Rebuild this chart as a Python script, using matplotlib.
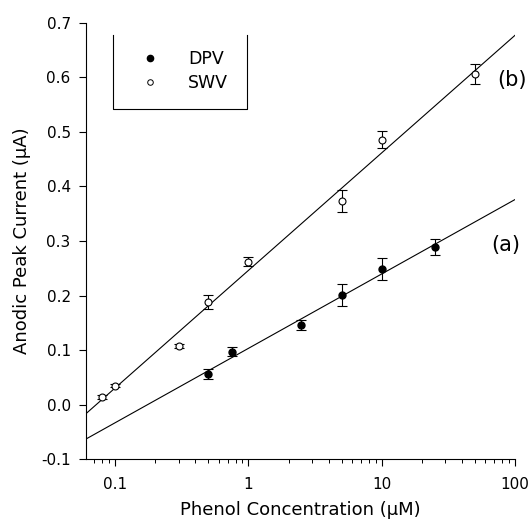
import numpy as np
import matplotlib
matplotlib.use('Agg')
import matplotlib.pyplot as plt
from matplotlib.lines import Line2D
from matplotlib.ticker import FixedLocator, FuncFormatter, LogLocator, NullFormatter

plt.rcParams['font.family'] = ['DejaVu Sans']

# DPV (filled)
dpv_x = [0.5, 0.75, 2.5, 5, 10, 25]
dpv_y = [0.056, 0.097, 0.146, 0.201, 0.249, 0.289]
dpv_err = [0.009, 0.008, 0.010, 0.020, 0.020, 0.015]

# SWV (open)
swv_x = [0.08, 0.1, 0.3, 0.5, 1, 5, 10, 50]
swv_y = [0.014, 0.035, 0.107, 0.188, 0.262, 0.374, 0.486, 0.606]
swv_err = [0.003, 0.003, 0.004, 0.013, 0.008, 0.020, 0.015, 0.018]

fig = plt.figure(figsize=(5.31, 5.2), dpi=100)
ax = fig.add_axes([0.162, 0.117, 0.808, 0.839])

xmin, xmax = 0.0605, 100
xx = np.logspace(np.log10(xmin), np.log10(xmax), 50)

# linear fits vs log concentration
pa = np.polyfit(np.log10(dpv_x), dpv_y, 1)
pb = np.polyfit(np.log10(swv_x), swv_y, 1)
ax.plot(xx, np.polyval(pa, np.log10(xx)), color='k', lw=0.8)
ax.plot(xx, np.polyval(pb, np.log10(xx)), color='k', lw=0.8)

ax.errorbar(dpv_x, dpv_y, yerr=dpv_err, fmt='o', color='k', ms=5,
            mfc='k', mec='k', ecolor='k', elinewidth=0.8, capsize=3.6, capthick=0.8,
            zorder=3)
ax.errorbar(swv_x, swv_y, yerr=swv_err, fmt='o', color='k', ms=5,
            mfc='white', mec='k', mew=0.8, ecolor='k', elinewidth=0.8, capsize=3.6,
            capthick=0.8, zorder=3)

ax.set_xscale('log')
ax.set_xlim(xmin, xmax)
ax.set_ylim(-0.1, 0.7)

ax.xaxis.set_major_locator(FixedLocator([0.1, 1, 10, 100]))
ax.xaxis.set_major_formatter(FuncFormatter(lambda v, p: '%g' % v))
ax.xaxis.set_minor_locator(LogLocator(base=10, subs=np.arange(2, 10)))
ax.xaxis.set_minor_formatter(NullFormatter())
ax.set_yticks(np.arange(-0.1, 0.71, 0.1))
ax.yaxis.set_major_formatter(FuncFormatter(lambda v, p: '%.1f' % v))

ax.spines['top'].set_visible(False)
ax.spines['right'].set_visible(False)
ax.tick_params(axis='both', which='major', direction='out', length=5, width=0.8, labelsize=11)
ax.tick_params(axis='x', which='major', pad=8)
ax.tick_params(axis='y', which='major', pad=6)
ax.tick_params(axis='x', which='minor', direction='out', length=3, width=0.7)

ax.set_xlabel('Phenol Concentration (\u03bcM)', fontsize=13, labelpad=6)
ax.set_ylabel('Anodic Peak Current (\u03bcA)', fontsize=13, labelpad=7)

ax.text(1.028, 0.869, '(b)', transform=ax.transAxes, fontsize=15, ha='right', va='center')
ax.text(1.012, 0.491, '(a)', transform=ax.transAxes, fontsize=15, ha='right', va='center')

handles = [Line2D([], [], ls='none', marker='o', ms=4.5, mfc='k', mec='k'),
           Line2D([], [], ls='none', marker='o', ms=4, mfc='white', mec='k', mew=0.7)]
ax.legend(handles, ['DPV', 'SWV'], loc='center left', bbox_to_anchor=(0.129, 0.889),
          frameon=False, fontsize=12.5, handlelength=1.0, handletextpad=1.7,
          borderpad=0, borderaxespad=0, labelspacing=0.35)

# legend box (open at top)
bx0, bx1, by0, by1 = 0.063, 0.375, 0.803, 0.972
ax.plot([bx0, bx0, bx1, bx1], [by1, by0, by0, by1], transform=ax.transAxes,
        color='k', lw=0.8, clip_on=False)

fig.savefig('out.png', dpi=100)
